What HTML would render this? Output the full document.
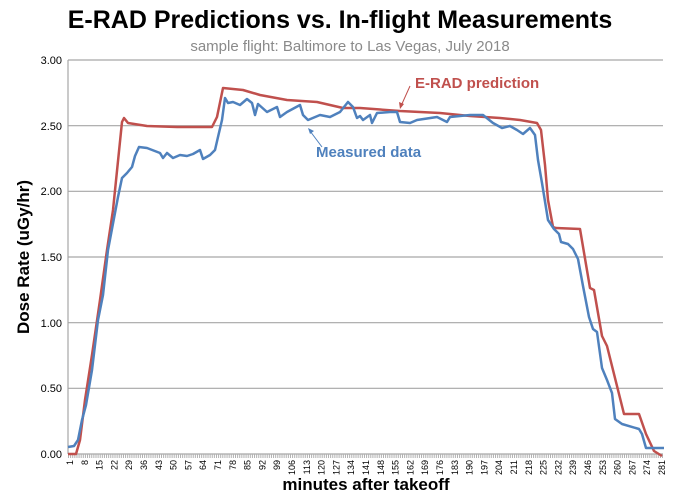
<!DOCTYPE html>
<html><head><style>body{margin:0;background:#fff}svg{display:block}</style></head><body>
<svg width="676" height="495" xmlns="http://www.w3.org/2000/svg" font-family="Liberation Sans, sans-serif">
<text x="340" y="28" text-anchor="middle" font-size="25" font-weight="bold">E-RAD Predictions vs. In-flight Measurements</text>
<text x="350" y="51" text-anchor="middle" font-size="15" fill="#8a8a8a">sample flight: Baltimore to Las Vegas, July 2018</text>
<g stroke="#a6a6a6" stroke-width="1.2">
<line x1="68" y1="60" x2="663" y2="60"/><line x1="68" y1="125.7" x2="663" y2="125.7"/><line x1="68" y1="191.3" x2="663" y2="191.3"/><line x1="68" y1="257" x2="663" y2="257"/><line x1="68" y1="322.7" x2="663" y2="322.7"/><line x1="68" y1="388.3" x2="663" y2="388.3"/><line x1="68" y1="454" x2="663" y2="454"/><line x1="68" y1="60" x2="68" y2="454"/>
</g>
<line x1="68" y1="456" x2="663" y2="456" stroke="#b0b0b0" stroke-width="4" stroke-dasharray="1,1.114"/>
<g font-size="11" text-anchor="end">
<text x="62" y="64">3.00</text><text x="62" y="130">2.50</text><text x="62" y="195">2.00</text><text x="62" y="261">1.50</text><text x="62" y="327">1.00</text><text x="62" y="392">0.50</text><text x="62" y="458">0.00</text>
</g>
<text transform="translate(29,257) rotate(-90)" text-anchor="middle" font-size="17" font-weight="bold">Dose Rate (uGy/hr)</text>
<text x="366" y="490" text-anchor="middle" font-size="17" font-weight="bold">minutes after takeoff</text>
<g font-size="9" text-anchor="end">
<text transform="translate(73,460) rotate(-90)">1</text>
<text transform="translate(87.8,460) rotate(-90)">8</text>
<text transform="translate(102.6,460) rotate(-90)">15</text>
<text transform="translate(117.4,460) rotate(-90)">22</text>
<text transform="translate(132.2,460) rotate(-90)">29</text>
<text transform="translate(147,460) rotate(-90)">36</text>
<text transform="translate(161.8,460) rotate(-90)">43</text>
<text transform="translate(176.6,460) rotate(-90)">50</text>
<text transform="translate(191.4,460) rotate(-90)">57</text>
<text transform="translate(206.2,460) rotate(-90)">64</text>
<text transform="translate(221,460) rotate(-90)">71</text>
<text transform="translate(235.8,460) rotate(-90)">78</text>
<text transform="translate(250.6,460) rotate(-90)">85</text>
<text transform="translate(265.4,460) rotate(-90)">92</text>
<text transform="translate(280.2,460) rotate(-90)">99</text>
<text transform="translate(295,460) rotate(-90)">106</text>
<text transform="translate(309.8,460) rotate(-90)">113</text>
<text transform="translate(324.6,460) rotate(-90)">120</text>
<text transform="translate(339.4,460) rotate(-90)">127</text>
<text transform="translate(354.2,460) rotate(-90)">134</text>
<text transform="translate(369,460) rotate(-90)">141</text>
<text transform="translate(383.8,460) rotate(-90)">148</text>
<text transform="translate(398.6,460) rotate(-90)">155</text>
<text transform="translate(413.4,460) rotate(-90)">162</text>
<text transform="translate(428.2,460) rotate(-90)">169</text>
<text transform="translate(443,460) rotate(-90)">176</text>
<text transform="translate(457.8,460) rotate(-90)">183</text>
<text transform="translate(472.6,460) rotate(-90)">190</text>
<text transform="translate(487.4,460) rotate(-90)">197</text>
<text transform="translate(502.2,460) rotate(-90)">204</text>
<text transform="translate(517,460) rotate(-90)">211</text>
<text transform="translate(531.8,460) rotate(-90)">218</text>
<text transform="translate(546.6,460) rotate(-90)">225</text>
<text transform="translate(561.4,460) rotate(-90)">232</text>
<text transform="translate(576.2,460) rotate(-90)">239</text>
<text transform="translate(591,460) rotate(-90)">246</text>
<text transform="translate(605.8,460) rotate(-90)">253</text>
<text transform="translate(620.6,460) rotate(-90)">260</text>
<text transform="translate(635.4,460) rotate(-90)">267</text>
<text transform="translate(650.2,460) rotate(-90)">274</text>
<text transform="translate(665,460) rotate(-90)">281</text>
</g>
<polyline fill="none" stroke="#c0504d" stroke-width="2.5" stroke-linejoin="round" points="68,454 76,454 80,440 85,400 92,355 100,300 107,250 113,210 122,122 124,118 128,123 147,126 177,127 212,127 217,117 223,88 243,90 260,95 287,100 317,102 343,108 360,108 400,111 440,113 470,116 500,118 520,120 537,123 541,130 545,165 548,200 553,227 556,228 580,229 590,288 594,290 602,336 607,346 624,414 639,414 646,434 654,451 662,456"/>
<polyline fill="none" stroke="#4f81bd" stroke-width="2.5" stroke-linejoin="round" points="68,447 74,446 78,440 82,420 86,405 92,370 98,320 103,295 108,250 118,197 122,178 127,173 132,167 135,156 139,147 147,148 160,153 163,158 167,153 173,158 180,155 187,156 193,154 200,150 203,159 210,155 215,150 218,137 222,120 225,98 228,103 233,102 240,105 247,99 252,103 255,115 258,104 267,112 277,107 280,117 287,112 300,105 303,115 308,120 320,115 330,117 340,112 348,102 353,107 357,118 360,116 363,120 370,115 372,123 377,113 390,112 397,112 400,122 410,123 417,120 437,117 447,122 450,117 470,115 483,115 493,123 502,128 510,126 517,130 523,134 530,128 535,135 538,160 542,183 548,220 554,229 559,234 561,242 568,244 573,249 578,259 583,286 589,317 593,329 597,332 602,368 607,380 612,393 615,419 622,424 639,429 642,434 646,448 664,448"/>
<text x="415" y="88" font-size="15" font-weight="bold" fill="#c0504d">E-RAD prediction</text>
<line x1="410" y1="86" x2="401" y2="106" stroke="#c0504d" stroke-width="1"/>
<polygon points="400,109 399,102 404,104" fill="#c0504d"/>
<text x="316" y="157" font-size="15" font-weight="bold" fill="#4f81bd">Measured data</text>
<line x1="322" y1="147" x2="310" y2="131" stroke="#4f81bd" stroke-width="1"/>
<polygon points="308,128 314,131 310,134" fill="#4f81bd"/>
</svg>
</body></html>
